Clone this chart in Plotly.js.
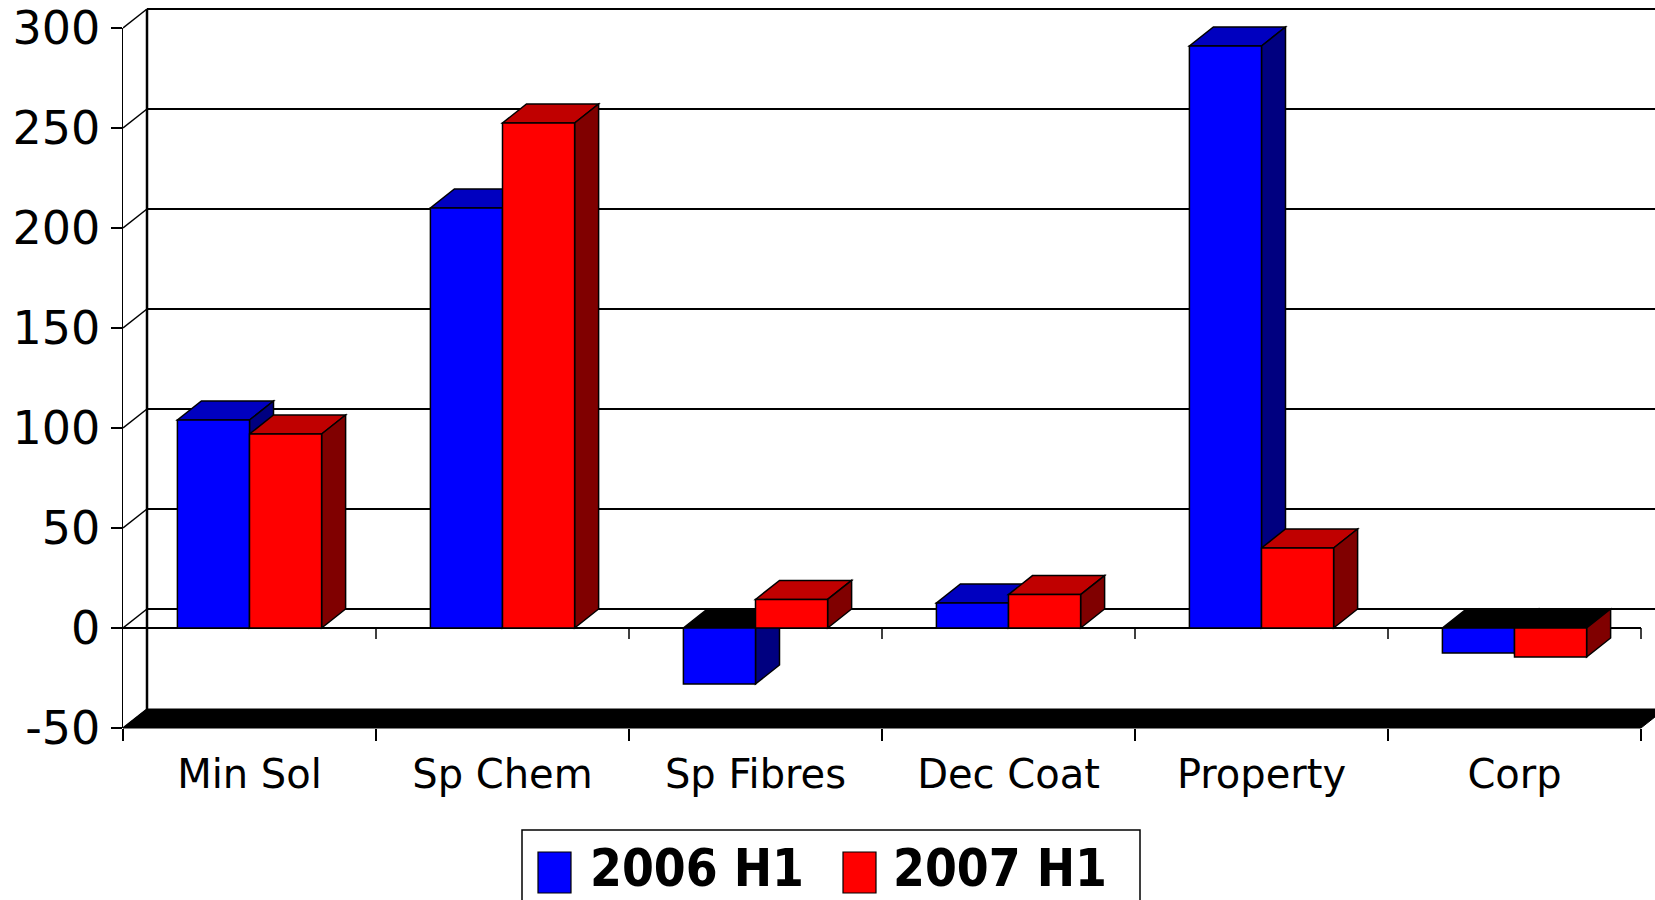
<!DOCTYPE html>
<html>
<head>
<meta charset="utf-8">
<script src="https://cdn.plot.ly/plotly-3.0.1.min.js"></script>
<style>
  html, body { margin: 0; padding: 0; background: #ffffff; }
  #chart { width: 1655px; height: 900px; }
</style>
</head>
<body>
<div id="chart"></div>
<script>
// ---- data ----
const categories = ['Min Sol', 'Sp Chem', 'Sp Fibres', 'Dec Coat', 'Property', 'Corp'];
const seriesNames = ['2006 H1', '2007 H1'];
const values2006 = [104, 210, -28, 12.5, 291, -12.5];
const values2007 = [97, 252.5, 14.3, 16.7, 40, -14.5];
const yTickVals = [-50, 0, 50, 100, 150, 200, 250, 300];
const yTickText = ['-50', '0', '50', '100', '150', '200', '250', '300'];

// ---- styling ----
const frontColors = ['#0000FF', '#FF0000'];
const topColors = ['#0000C0', '#C00000'];
const sideColors = ['#000080', '#800000'];

const W = 1655, H = 900;
const M = { l: 123, r: 0, t: 28, b: 172 };
const plotW = W - M.l - M.r;   // 1532
const plotH = H - M.t - M.b;   // 700
const catPx = 253;             // pixels per category
const XMIN = -0.5;
const XMAX = XMIN + plotW / catPx;
const YMIN = yTickVals[0];
const YMAX = yTickVals[yTickVals.length - 1];
const BARGAP = 0.43;
const DX = 24 / catPx;         // depth offset in x units
const DYP = 19 / plotH;        // depth offset in paper units
const yp = v => (v - YMIN) / (YMAX - YMIN);

const allSeries = [values2006, values2007];
const n = categories.length;
const xIdx = categories.map((c, i) => i);
const bounds = [];
for (let i = 0; i <= n; i++) bounds.push(i - 0.5);

const shapes = [];
const line = (c, w) => ({ color: c, width: w });

// back wall gridlines + side wall diagonals
yTickVals.forEach(v => {
  if (v === YMIN) return;
  shapes.push({ type: 'line', xref: 'x', yref: 'paper', layer: 'below',
    x0: XMIN + DX, x1: XMAX, y0: yp(v) + DYP, y1: yp(v) + DYP, line: line('#000', 2) });
  shapes.push({ type: 'line', xref: 'x', yref: 'paper', layer: 'below',
    x0: XMIN, x1: XMIN + DX, y0: yp(v), y1: yp(v) + DYP, line: line('#000', 1.5) });
});
// back wall vertical edge
shapes.push({ type: 'line', xref: 'x', yref: 'paper', layer: 'below',
  x0: XMIN + DX, x1: XMIN + DX, y0: yp(YMIN) + DYP, y1: yp(YMAX) + DYP, line: line('#000', 2.5) });
// floor
shapes.push({ type: 'path', xref: 'x', yref: 'paper', layer: 'below',
  path: `M${XMIN},${yp(YMIN)} L${bounds[n]},${yp(YMIN)} L${bounds[n] + DX},${yp(YMIN) + DYP} L${XMIN + DX},${yp(YMIN) + DYP} Z`,
  fillcolor: '#000', line: line('#000', 1) });
shapes.push({ type: 'line', xref: 'x', yref: 'paper', layer: 'below',
  x0: XMIN, x1: XMIN + DX, y0: yp(YMIN), y1: yp(YMIN) + DYP, line: line('#000', 1.5) });
// front zero line with boundary ticks
shapes.push({ type: 'line', xref: 'x', yref: 'paper', layer: 'below',
  x0: XMIN, x1: bounds[n], y0: yp(0), y1: yp(0), line: line('#000', 2) });
bounds.slice(1).forEach(b => {
  shapes.push({ type: 'line', xref: 'x', yref: 'paper', layer: 'below',
    x0: b, x1: b, y0: yp(0), y1: yp(0) - 11 / plotH, line: line('#000', 1.5) });
});

// 3D faces of each bar (top and side), derived from the data
const w = (1 - BARGAP) / 2;
allSeries.forEach((vals, s) => {
  vals.forEach((v, j) => {
    const xa = j - w + s * w, xb = xa + w;
    const vt = yp(Math.max(v, 0)), vb = yp(Math.min(v, 0));
    shapes.push({ type: 'path', xref: 'x', yref: 'paper', layer: 'below',
      path: `M${xa},${vt} L${xb},${vt} L${xb + DX},${vt + DYP} L${xa + DX},${vt + DYP} Z`,
      fillcolor: v >= 0 ? topColors[s] : '#000', line: line('#000', 1.5) });
    shapes.push({ type: 'path', xref: 'x', yref: 'paper', layer: 'below',
      path: `M${xb},${vt} L${xb + DX},${vt + DYP} L${xb + DX},${vb + DYP} L${xb},${vb} Z`,
      fillcolor: sideColors[s], line: line('#000', 1.5) });
  });
});

// legend (drawn box, swatches, names)
const px2x = px => (px - M.l) / plotW;
const px2y = py => (H - M.b - py) / plotH;
shapes.push({ type: 'rect', xref: 'paper', yref: 'paper', layer: 'above',
  x0: px2x(522), x1: px2x(1140), y0: px2y(830), y1: px2y(915),
  fillcolor: '#fff', line: line('#000', 1.5) });
const swatchX = [538, 843];
const textX = [588, 891];
const annotations = [];
seriesNames.forEach((name, s) => {
  shapes.push({ type: 'rect', xref: 'paper', yref: 'paper', layer: 'above',
    x0: px2x(swatchX[s]), x1: px2x(swatchX[s] + 33), y0: px2y(852), y1: px2y(893),
    fillcolor: frontColors[s], line: line('#000', 1.2) });
  annotations.push({ xref: 'paper', yref: 'paper', x: px2x(textX[s]), y: px2y(868),
    xanchor: 'left', yanchor: 'middle', showarrow: false, text: '<b>' + name + '</b>',
    font: { family: 'DejaVu Sans Condensed, Liberation Sans, Arial, sans-serif', size: 51, color: '#000' } });
});

const traces = allSeries.map((vals, s) => ({
  type: 'bar', name: seriesNames[s], x: xIdx, y: vals,
  marker: { color: frontColors[s], line: { color: '#000', width: 1.5 } },
  hoverinfo: 'x+y'
}));

const layout = {
  width: W, height: H, autosize: false,
  margin: { l: M.l, r: M.r, t: M.t, b: M.b, pad: 0 },
  paper_bgcolor: '#fff', plot_bgcolor: 'rgba(0,0,0,0)',
  showlegend: false,
  barmode: 'group', bargap: BARGAP, bargroupgap: 0,
  font: { family: 'DejaVu Sans, Verdana, sans-serif', color: '#000' },
  xaxis: {
    range: [XMIN, XMAX], tickmode: 'array', tickvals: xIdx, ticktext: categories,
    ticks: '', showgrid: false, zeroline: false, showline: false,
    tickfont: { family: 'DejaVu Sans, Verdana, sans-serif', size: 40, color: '#000' },
    ticklabelstandoff: 19,
    minor: { tickmode: 'array', tickvals: bounds, ticks: 'outside', ticklen: 12, tickwidth: 1.5, tickcolor: '#000', showgrid: false },
    fixedrange: true
  },
  yaxis: {
    range: [YMIN, YMAX], tickmode: 'array', tickvals: yTickVals, ticktext: yTickText,
    ticks: 'outside', ticklen: 11, tickwidth: 1.5, tickcolor: '#000',
    showline: true, linewidth: 1.5, linecolor: '#000',
    showgrid: false, zeroline: false,
    tickfont: { family: 'DejaVu Sans, Verdana, sans-serif', size: 46, color: '#000' },
    ticklabelstandoff: 1,
    fixedrange: true
  },
  shapes: shapes,
  annotations: annotations
};

Plotly.newPlot('chart', traces, layout, { displayModeBar: false, staticPlot: true });
</script>
</body>
</html>
